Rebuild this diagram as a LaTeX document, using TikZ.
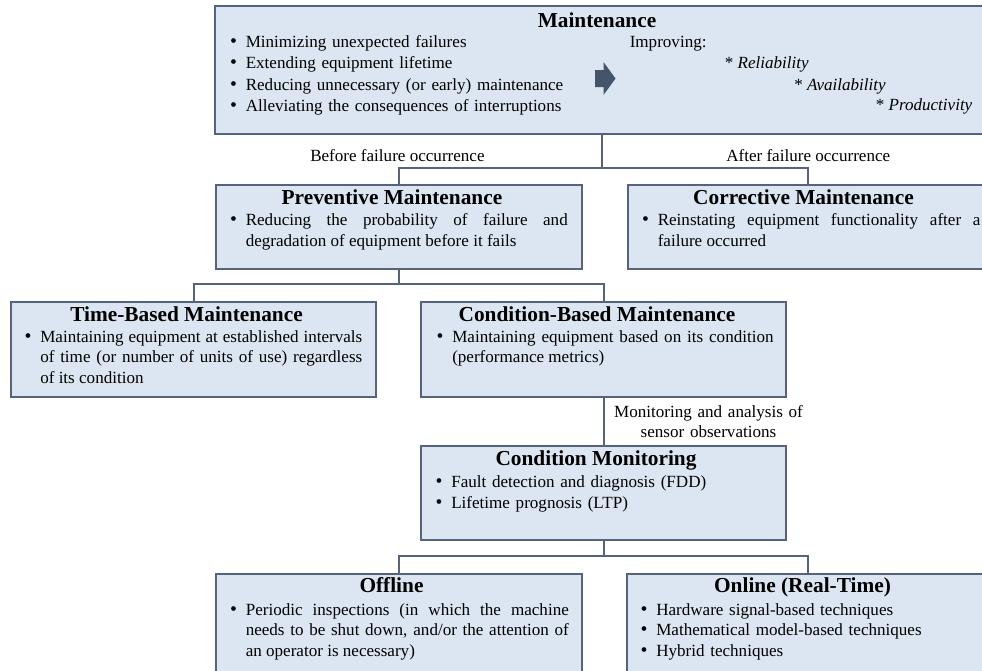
\documentclass[tikz,border=0pt]{standalone}
\usepackage{fontspec}
\setmainfont{Liberation Serif}
\definecolor{boxfill}{HTML}{DCE6F2}
\definecolor{boxline}{HTML}{56637A}
\definecolor{arrowfill}{HTML}{44546A}
\newcommand\bodyfont{\fontsize{12.8}{15.4}\selectfont\hyphenpenalty=10000\relax}
\newcommand\headfont{\fontsize{16}{18}\selectfont\bfseries}
\newcommand\bul{\leavevmode\llap{\scalebox{1.15}{\textbullet}\hspace{6.6pt}}}
\tikzset{
  box/.style={draw=boxline, fill=boxfill, line width=1.5pt, inner sep=0pt, anchor=north west},
  conn/.style={draw=boxline, line width=1.5pt, line join=miter},
  head/.style={font=\headfont, inner sep=0pt, anchor=base},
  para/.style={font=\bodyfont, inner sep=0pt, anchor=base west, align=justify, text width=241.5pt},
  lines/.style={font=\bodyfont, inner sep=0pt, anchor=base west, align=left, text width=300pt},
  plain/.style={font=\bodyfont, inner sep=0pt, anchor=base west},
}
\begin{document}
\begin{tikzpicture}[x=0.75pt, y=-0.75pt]
\useasboundingbox (0,0) rectangle (982,671);
\clip (0,0) rectangle (982,671);

% boxes (the right-hand column runs past the page edge)
\node[box, minimum width=585pt,    minimum height=96pt]    (main) at (214,5)   {};
\node[box, minimum width=274.5pt,  minimum height=63pt]    (prev) at (215,184) {};
\node[box, minimum width=275.25pt, minimum height=63pt]    (corr) at (627,184) {};
\node[box, minimum width=273.75pt, minimum height=71.25pt] (time) at (10,300.5) {};
\node[box, minimum width=273.75pt, minimum height=71.25pt] (cbm)  at (420,300.5) {};
\node[box, minimum width=273.75pt, minimum height=70.5pt]  (cm)   at (420,445) {};
\node[box, minimum width=274.5pt,  minimum height=81pt]    (off)  at (215,572.5) {};
\node[box, minimum width=275.25pt, minimum height=81pt]    (on)   at (626,572.5) {};

% junction points of the tree
\coordinate (j1)  at (602,167.5);
\coordinate (j1r) at (808,167.5);
\coordinate (j2)  at (0,284);
\coordinate (j4)  at (808,556);

% connectors
\draw[conn] (main.south -| j1) -- (j1);
\draw[conn] (prev.north) |- (j1r) -- (j1r |- corr.north);
\draw[conn] (prev.south) -- (prev.south |- j2);
\draw[conn] (time.north) |- (cbm.north |- j2) -- (cbm.north);
\draw[conn] (cbm.south) -- (cbm.south |- cm.north);
\draw[conn] (cm.south) -- (cm.south |- j4);
\draw[conn] (off.north) |- (j4) -- (j4 |- on.north);

% block arrow in the top box
\fill[arrowfill] (595,70) -- (603.5,70) -- (603.5,62) -- (615.5,78.5) -- (603.5,95) -- (603.5,87) -- (595,87) -- cycle;

% top box
\node[head] (mainT) at (597,27.5) {Maintenance};
\node[lines, font=\fontsize{12.8}{16}\selectfont] (mainL) at (245.5,47.5) {%
  \bul Minimizing unexpected failures\\
  \bul Extending equipment lifetime\\
  \bul Reducing unnecessary (or early) maintenance\\
  \bul Alleviating the consequences of interruptions};
\node[plain] (impr) at (629.5,47.5)  {Improving:};
\node[plain] (rel)  at (724.5,68.5)  {* \textit{Reliability}};
\node[plain] (avl)  at (794,90)      {* \textit{Availability}};
\node[plain] (prd)  at (875.5,110.5) {* \textit{Productivity}};

% branch labels
\node[plain] (before) at (310,161.5) {Before failure occurrence};
\node[plain] (after)  at (726,161.5) {After failure occurrence};

% preventive / corrective
\node[head] (prevT) at (392,204.5) {Preventive Maintenance};
\node[para] (prevB) at (245.5,225.5) {%
  \bul Reducing the probability of failure and\linebreak
  degradation of equipment before it fails};
\node[head] (corrT) at (803.5,204.5) {Corrective Maintenance};
\node[para, text width=242pt] (corrB) at (657.5,225.5) {%
  \bul Reinstating equipment functionality after a\linebreak
  failure occurred};

% time-based / condition-based
\node[head] (timeT) at (186.5,321) {Time-Based Maintenance};
\node[para] (timeB) at (40,342) {%
  \bul Maintaining equipment at established intervals\linebreak
  of time (or number of units of use) regardless\linebreak
  of its condition};
\node[head] (cbmT) at (597,321) {Condition-Based Maintenance};
\node[para, text width=241pt] (cbmB) at (452,342) {%
  \bul Maintaining equipment based on its condition\linebreak
  (performance metrics)};

\node[font=\bodyfont, inner sep=0pt, anchor=base, text width=160pt, align=center]
  (mon) at (708.5,417) {Monitoring and analysis of\\ sensor observations};

% condition monitoring
\node[head] (cmT) at (596,465.5) {Condition Monitoring};
\node[lines, font=\fontsize{12.8}{15.75}\selectfont] (cmB) at (451,487) {%
  \bul Fault detection and diagnosis (FDD)\\
  \bul Lifetime prognosis (LTP)};

% offline / online
\node[head] (offT) at (391.5,592.5) {Offline};
\node[para, text width=242.3pt] (offB) at (245.5,615) {%
  \bul Periodic inspections (in which the machine\linebreak
  needs to be shut down, and/or the attention of\linebreak
  an operator is necessary)};
\node[head] (onT) at (802.5,592.5) {Online (Real-Time)};
\node[lines] (onB) at (656,615) {%
  \bul Hardware signal-based techniques\\
  \bul Mathematical model-based techniques\\
  \bul Hybrid techniques};
\end{tikzpicture}
\end{document}
